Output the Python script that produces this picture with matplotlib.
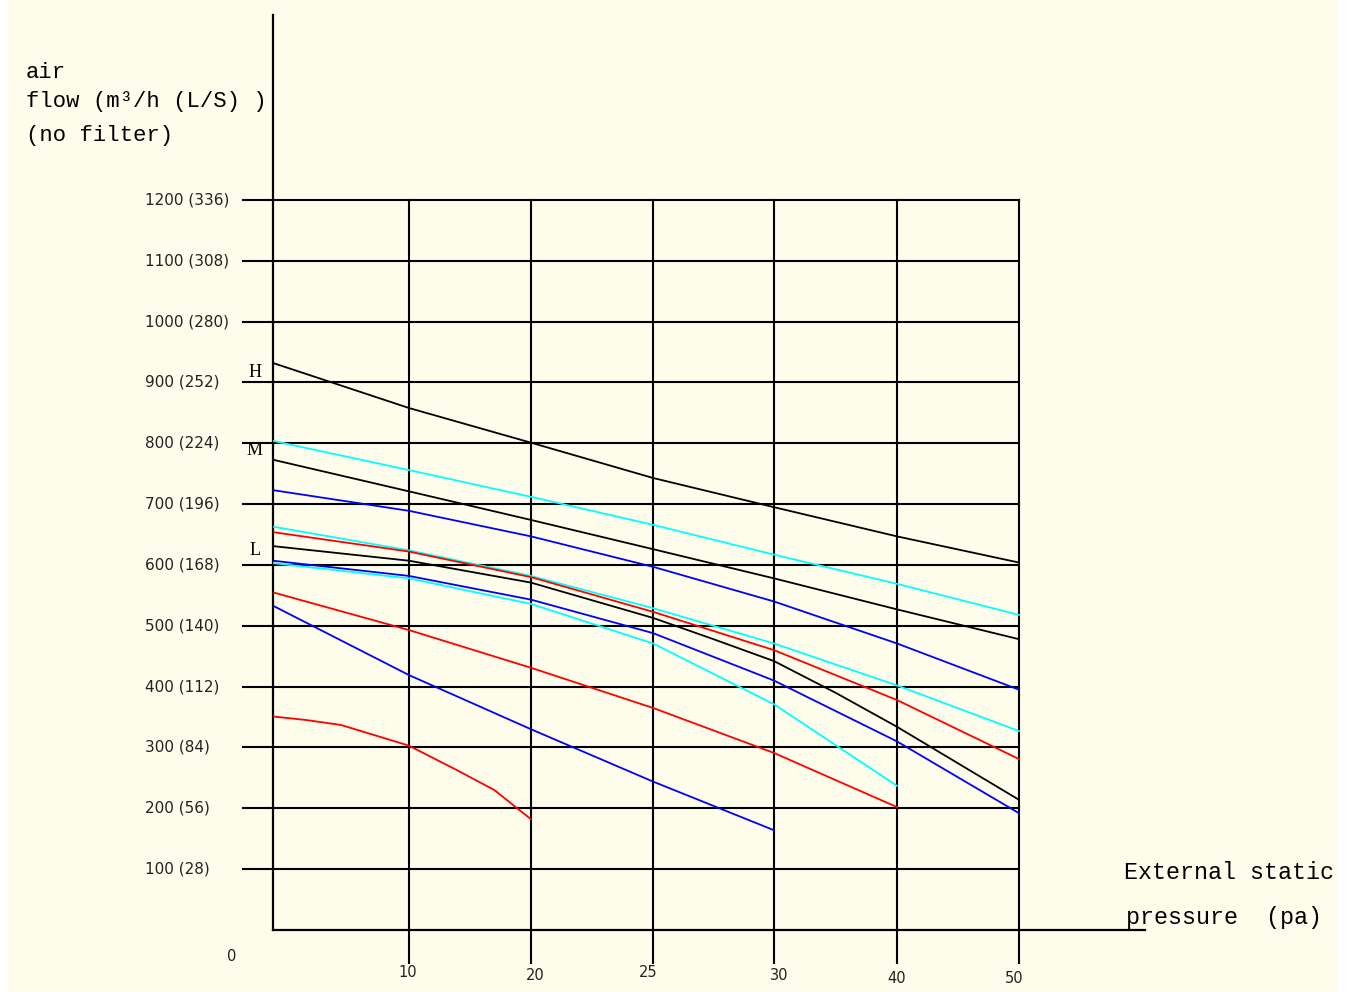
import numpy as np
import matplotlib
matplotlib.use("Agg")
import matplotlib.pyplot as plt
from matplotlib.patches import Rectangle

# ---------------- datos ----------------
# presiones estaticas externas (pa) de las lineas de la grilla
presiones = [0, 10, 20, 25, 30, 40, 50]
# caudal de aire (m3/h) en cada linea de la grilla
caudales_y = [100, 200, 300, 400, 500, 600, 700, 800, 900, 1000, 1100, 1200]
litros_s = [28, 56, 84, 112, 140, 168, 196, 224, 252, 280, 308, 336]

# curvas (velocidad H / M / L y otras)
p_todo = [0, 10, 20, 25, 30, 40, 50]
h_negro = [932, 858, 801, 743, 695, 647, 604]
cian_1 = [804, 756, 712, 666, 617, 569, 518]
m_negro = [773, 721, 674, 626, 578, 527, 478]
azul_1 = [723, 689, 647, 597, 540, 471, 395]
cian_2 = [663, 624, 582, 529, 471, 402, 327]
rojo_1 = [654, 622, 580, 523, 460, 378, 281]
azul_2 = [607, 582, 543, 488, 410, 310, 192]

p_l = [0, 10, 20, 25, 27.5, 30, 35, 40, 50]
l_negro = [631, 607, 571, 513, 478, 442, 390, 334, 214]

p_40 = [0, 10, 20, 25, 30, 40]
cian_3 = [603, 578, 536, 471, 371, 237]
rojo_2 = [555, 493, 431, 365, 291, 202]

p_30 = [0, 10, 20, 25, 30]
azul_3 = [533, 419, 330, 244, 164]

p_20 = [0, 2.5, 5, 10, 14, 17, 20]
rojo_3 = [351, 345, 337, 303, 262, 230, 182]

curvas = [
    (p_todo, h_negro, "black"),
    (p_todo, cian_1, "#00ffff"),
    (p_todo, m_negro, "black"),
    (p_todo, azul_1, "#0000ff"),
    (p_todo, cian_2, "#00ffff"),
    (p_todo, rojo_1, "#ff0000"),
    (p_l, l_negro, "black"),
    (p_todo, azul_2, "#0000ff"),
    (p_40, cian_3, "#00ffff"),
    (p_40, rojo_2, "#ff0000"),
    (p_30, azul_3, "#0000ff"),
    (p_20, rojo_3, "#ff0000"),
]

# posicion horizontal de cada linea de grilla (la escala no es uniforme)
pos_grilla = [0, 136, 258, 380, 501, 624, 746]


def xpos(p):
    return np.interp(p, presiones, pos_grilla)


# ---------------- figura ----------------
fig = plt.figure(figsize=(13.48, 9.98), dpi=100, facecolor="white")
fig.patches.append(Rectangle((8 / 1348, 6 / 998), 1330 / 1348, 992 / 998,
                             transform=fig.transFigure, facecolor="#fefcea",
                             edgecolor="none", zorder=-10))

ax = fig.add_axes([273 / 1348, 1 - 930 / 998, 872 / 1348, 915 / 998])
ax.set_facecolor("none")
ax.set_xlim(0, 872)
ax.set_ylim(0, 1504)
for s in ["top", "right"]:
    ax.spines[s].set_visible(False)
ax.spines["left"].set_linewidth(1.6)
ax.spines["bottom"].set_linewidth(1.6)
ax.set_xticks([])
ax.set_yticks([])

# grilla horizontal (sale un poco a la izquierda del eje)
for v in caudales_y:
    ax.plot([-30, xpos(50)], [v, v], color="black", lw=1.5, clip_on=False, zorder=1)
# grilla vertical (baja un poco debajo del eje)
for p in presiones[1:]:
    ax.plot([xpos(p), xpos(p)], [-54, 1200], color="black", lw=1.5, clip_on=False, zorder=1)

for p, q, c in curvas:
    ax.plot(xpos(p), q, color=c, lw=1.3, zorder=3)

# etiquetas del eje y
for v, l in zip(caudales_y, litros_s):
    ax.text(-128, v, f"{v} ({l})", fontsize=11, family="DejaVu Sans",
            ha="left", va="center", color="#222222")
ax.text(-41, -44, "0", fontsize=10.5, ha="center", va="center", color="#222222")

# etiquetas del eje x
desfase_y = [-70, -74, -70, -75, -79, -79]
dx = [-1, 4, -5, 5, 0, -5]
for p, d, e in zip(presiones[1:], desfase_y, dx):
    ax.text(xpos(p) + e, d, str(p), fontsize=10.5, ha="center", va="center", color="#222222")

# marcas H, M, L
for txt, v in [("H", 916), ("M", 788), ("L", 624)]:
    ax.text(-18, v, txt, fontsize=13, family="Liberation Serif", ha="center", va="center")

# titulos de los ejes
mono = "Liberation Mono"
ax.text(-247, 1410, "air", fontsize=16, family=mono, ha="left", va="center")
ax.text(-247, 1361, "flow (m³/h (L/S) )", fontsize=16, family=mono, ha="left", va="center")
ax.text(-247, 1306, "(no filter)", fontsize=16, family=mono, ha="left", va="center")
ax.text(851, 95, "External static", fontsize=16.8, family=mono, ha="left", va="center",
        clip_on=False)
ax.text(853, 21, "pressure  (pa)", fontsize=16.8, family=mono, ha="left", va="center",
        clip_on=False)

fig.savefig("out.png", dpi=100, facecolor=fig.get_facecolor())
